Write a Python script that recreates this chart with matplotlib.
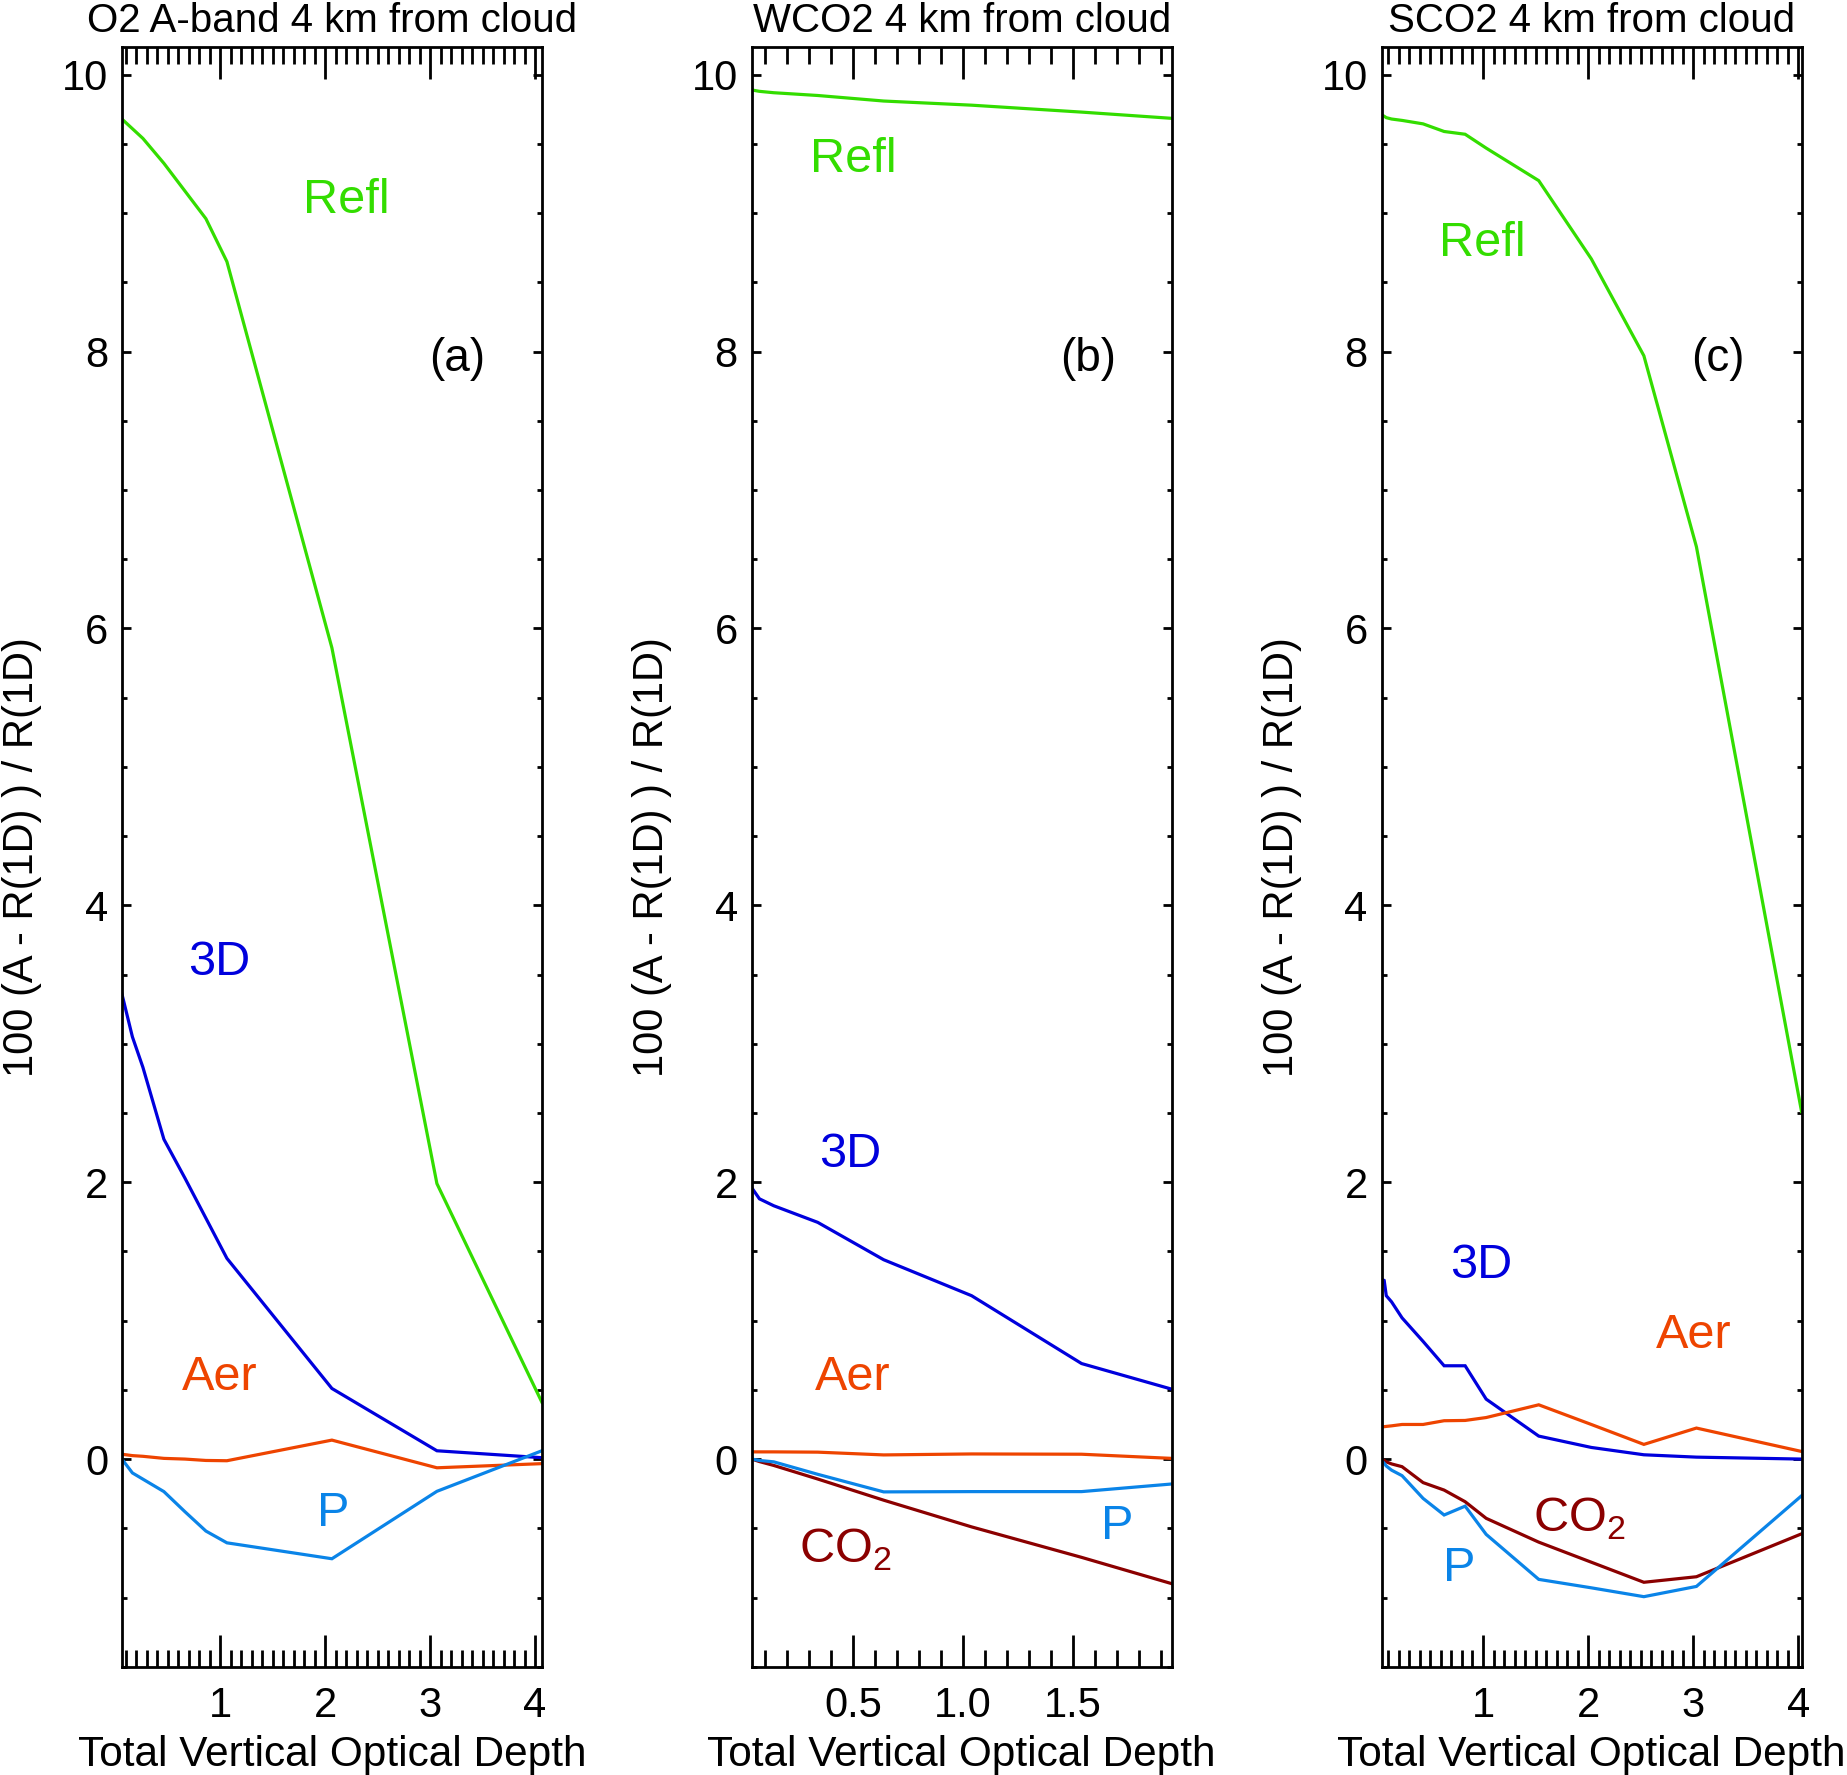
import matplotlib
matplotlib.use("Agg")
import matplotlib.pyplot as plt
from matplotlib.ticker import MultipleLocator

plt.rcParams['font.family'] = ['Liberation Sans', 'DejaVu Sans']
plt.rcParams['mathtext.fontset'] = 'custom'
plt.rcParams['mathtext.rm'] = 'Liberation Sans'

# ---------------- data ----------------
titles = ["O2 A-band 4 km from cloud", "WCO2 4 km from cloud", "SCO2 4 km from cloud"]
panel_tags = ["(a)", "(b)", "(c)"]
ylabel_text = "100 (A - R(1D) ) / R(1D)"
xlabel_text = "Total Vertical Optical Depth"

# Panel (a) O2 A-band
x_a = [0.065, 0.165, 0.265, 0.465, 0.665, 0.865, 1.065, 2.065, 3.065, 4.065]
refl_a = [9.68, 9.61, 9.54, 9.36, 9.16, 8.96, 8.65, 5.86, 1.99, 0.41]
d3_a = [3.36, 3.05, 2.83, 2.31, 2.03, 1.74, 1.45, 0.51, 0.06, 0.01]
aer_a = [0.035, 0.025, 0.02, 0.005, 0.0, -0.01, -0.012, 0.137, -0.063, -0.033]
p_a = [0.0, -0.10, -0.145, -0.235, -0.38, -0.52, -0.605, -0.72, -0.233, 0.06]

# Panel (b) WCO2
x_b = [0.04, 0.075, 0.14, 0.34, 0.64, 1.04, 1.54, 1.95]
refl_b = [9.89, 9.88, 9.87, 9.85, 9.81, 9.78, 9.73, 9.685]
d3_b = [1.96, 1.88, 1.83, 1.71, 1.44, 1.18, 0.69, 0.505]
aer_b = [0.052, 0.052, 0.052, 0.05, 0.03, 0.037, 0.035, 0.005]
p_b = [0.0, -0.01, -0.02, -0.11, -0.237, -0.235, -0.235, -0.18]
co2_b = [0.0, -0.018, -0.046, -0.144, -0.297, -0.49, -0.71, -0.90]

# Panel (c) SCO2
x_c = [0.035, 0.06, 0.08, 0.13, 0.23, 0.43, 0.63, 0.83, 1.03, 1.53, 2.03, 2.53, 3.03, 4.03]
refl_c = [9.71, 9.70, 9.69, 9.68, 9.67, 9.645, 9.59, 9.57, 9.47, 9.235, 8.67, 7.97, 6.59, 2.51]
d3_c = [1.30, 1.29, 1.18, 1.136, 1.02, 0.85, 0.674, 0.674, 0.433, 0.166, 0.084, 0.031, 0.014, 0.0]
aer_c = [0.233, 0.234, 0.236, 0.24, 0.25, 0.25, 0.277, 0.279, 0.30, 0.392, 0.25, 0.106, 0.224, 0.055]
p_c = [-0.012, -0.03, -0.05, -0.08, -0.12, -0.284, -0.404, -0.34, -0.544, -0.869, -0.93, -0.994, -0.92, -0.265]
co2_c = [0.0, -0.01, -0.02, -0.035, -0.055, -0.17, -0.224, -0.308, -0.428, -0.60, -0.745, -0.89, -0.85, -0.54]

# label positions (data coords)
labels_a = [("Refl", 2.2, 9.09, 'refl'), ("3D", 0.99, 3.59, 'd3'),
            ("Aer", 1.0, 0.59, 'aer'), ("P", 2.08, -0.39, 'p')]
labels_b = [("Refl", 0.50, 9.39, 'refl'), ("3D", 0.49, 2.20, 'd3'),
            ("Aer", 0.50, 0.59, 'aer'), ("CO$_\\mathregular{2}$", 0.465, -0.66, 'co2'),
            ("P", 1.70, -0.49, 'p')]
labels_c = [("Refl", 0.99, 8.78, 'refl'), ("3D", 0.98, 1.40, 'd3'),
            ("Aer", 3.0, 0.89, 'aer'), ("CO$_\\mathregular{2}$", 1.92, -0.43, 'co2'),
            ("P", 0.77, -0.79, 'p')]
tag_pos = [(3.26, 7.95), (1.57, 7.95), (3.23, 7.95)]

colors = {'refl': '#33DD00', 'd3': '#0000DD', 'aer': '#EE4400',
          'p': '#0A84E8', 'co2': '#8B0000'}

# ---------------- figure ----------------
fig = plt.figure(figsize=(18.47, 17.75), dpi=100)
lefts = [0.066, 0.407, 0.748]
bottom, width, height = 0.061, 0.2274, 0.9125

panels = [
    (x_a, {'refl': refl_a, 'd3': d3_a, 'aer': aer_a, 'p': p_a}, labels_a, [1, 2, 3, 4], ['1', '2', '3', '4']),
    (x_b, {'refl': refl_b, 'd3': d3_b, 'aer': aer_b, 'p': p_b, 'co2': co2_b}, labels_b, [0.5, 1.0, 1.5], ['0.5', '1.0', '1.5']),
    (x_c, {'refl': refl_c, 'd3': d3_c, 'aer': aer_c, 'p': p_c, 'co2': co2_c}, labels_c, [1, 2, 3, 4], ['1', '2', '3', '4']),
]

for i, (xs, series, labs, xt, xtl) in enumerate(panels):
    ax = fig.add_axes([lefts[i], bottom, width, height])
    order = ['refl', 'd3', 'aer', 'co2', 'p']
    for key in order:
        if key in series:
            ax.plot(xs, series[key], color=colors[key], lw=2.3, solid_joinstyle='miter')
    ax.set_xlim(xs[0], xs[-1])
    ax.set_ylim(-1.5, 10.2)
    ax.set_xticks(xt)
    ax.set_xticklabels(xtl)
    ax.xaxis.set_minor_locator(MultipleLocator(0.1))
    ax.set_yticks([0, 2, 4, 6, 8, 10])
    ax.yaxis.set_minor_locator(MultipleLocator(0.5))
    ax.tick_params(axis='x', which='major', direction='in', length=23, width=2,
                   top=True, bottom=True, labelsize=30, pad=14)
    ax.tick_params(axis='x', which='minor', direction='in', length=12, width=2,
                   top=True, bottom=True)
    ax.tick_params(axis='y', which='major', direction='in', length=6.5, width=2,
                   left=True, right=True, labelsize=30, pad=10)
    ax.tick_params(axis='y', which='minor', direction='in', length=3.5, width=2,
                   left=True, right=True)
    for sp in ax.spines.values():
        sp.set_linewidth(2)
    ax.set_title(titles[i], fontsize=29, pad=11)
    ax.set_xlabel(xlabel_text, fontsize=30.5, labelpad=6)
    ax.set_ylabel(ylabel_text, fontsize=30, labelpad=14)
    for txt, tx, ty, key in labs:
        ax.text(tx, ty, txt, color=colors[key], fontsize=35, ha='center', va='center')
    ax.text(tag_pos[i][0], tag_pos[i][1], panel_tags[i], color='black', fontsize=33,
            ha='center', va='center')

fig.savefig("out.png", dpi=100)
